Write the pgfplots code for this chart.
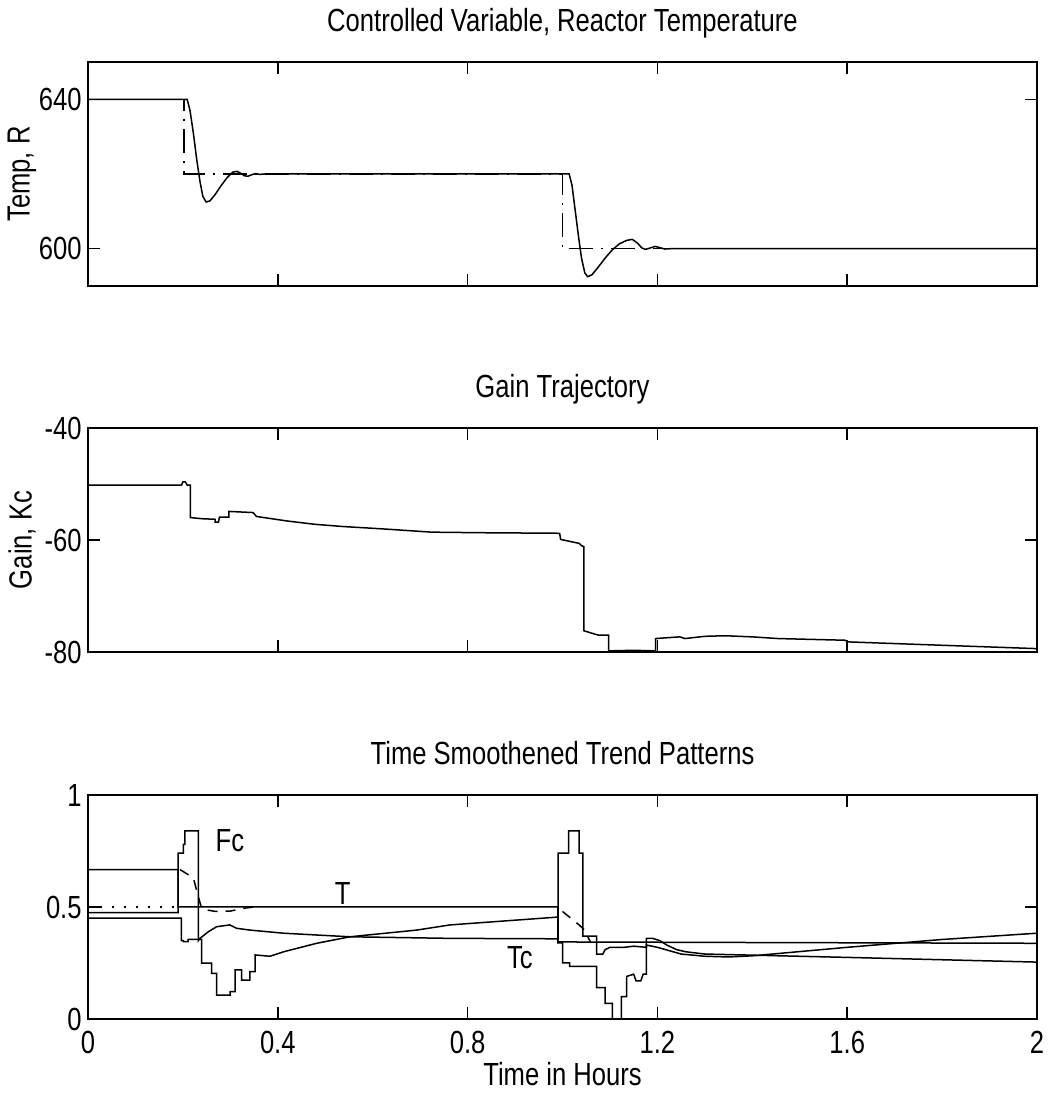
\documentclass[border=0pt]{standalone}
\usepackage{fontspec}
\setmainfont{Liberation Sans}[FakeStretch=0.8]
\usepackage{pgfplots}
\pgfplotsset{compat=1.18}
\pgfplotsset{
  panel/.style={
    scale only axis, width=474.5pt, height=112pt,
    xmin=0, xmax=2,
    xtick={0,0.4,0.8,1.2,1.6,2},
    xticklabels={0,0.4,0.8,1.2,1.6,2},
    tick align=inside, xtick pos=both, ytick pos=both,
    major tick length=6pt,
    axis line style={line width=0.8pt},
    every tick/.style={black, line width=0.8pt},
    tick label style={font=\fontsize{16}{19}\selectfont},
    /pgf/number format/assume math mode=true,
    xticklabel style={anchor=base, yshift=-17.5pt, inner sep=0pt},
    yticklabel style={anchor=east, inner sep=0pt, xshift=-3pt},
    label style={font=\fontsize{16}{19}\selectfont},
    ylabel style={at={(axis description cs:-0.0695,0.5)}, anchor=center},
    every axis title shift=0pt,
    title style={font=\fontsize{16}{19}\selectfont, at={(axis description cs:0.5,1)}, anchor=base, yshift=15pt},
  },
  ln/.style={black, line width=0.75pt, mark=none},
}
\begin{document}
\fontsize{16}{19}\selectfont
\begin{tikzpicture}[x=1pt,y=1pt]
\useasboundingbox (0,0) rectangle (525,548.5);

% ---------------- top panel ----------------
\begin{axis}[panel, at={(44pt,405.5pt)}, anchor=south west,
  ymin=590, ymax=650, ytick={600,640}, xticklabels={},
  ylabel={Temp, R},
  title={Controlled Variable, Reactor Temperature}]
\addplot[ln, dash pattern=on 12pt off 4pt on 1pt off 4pt] coordinates {
(0,640)(0.202,640)(0.202,620)(1.0,620)(1.0,600)(2,600)};
\addplot[ln] coordinates {
(0,640)(0.209,640)(0.215,637)(0.222,631)(0.229,624)(0.236,618)(0.242,614)
(0.249,612.5)(0.257,612.8)(0.268,614.5)(0.28,616.8)(0.293,619)(0.305,620.5)
(0.314,620.7)(0.322,620.2)(0.33,619.5)(0.337,619.4)(0.345,619.8)(0.353,620.1)
(0.362,619.9)(0.375,620)(1.014,620)(1.02,617)(1.027,610)(1.034,603)(1.04,597.5)
(1.047,593.5)(1.053,592.5)(1.062,593)(1.075,595)(1.09,597.5)(1.105,599.7)
(1.12,601.3)(1.135,602.2)(1.147,602.5)(1.158,601.5)(1.167,600.2)(1.175,599.8)
(1.185,600.2)(1.195,600.6)(1.205,600.3)(1.215,599.9)(1.23,600)(2,600)};
\end{axis}

% ---------------- middle panel ----------------
\begin{axis}[panel, at={(44pt,222.5pt)}, anchor=south west,
  ymin=-80, ymax=-40, ytick={-80,-60,-40}, xticklabels={},
  ylabel={Gain, Kc},
  title={Gain Trajectory}]
\addplot[ln] coordinates {
(0,-50.2)(0.197,-50.2)(0.200,-49.6)(0.205,-49.6)(0.209,-50.2)(0.216,-50.2)
(0.216,-56.0)(0.24,-56.2)(0.268,-56.3)(0.268,-56.8)(0.275,-56.8)(0.277,-55.9)
(0.297,-55.9)(0.297,-54.9)(0.348,-55.1)(0.355,-55.8)(0.419,-56.6)(0.478,-57.2)
(0.538,-57.6)(0.598,-57.9)(0.636,-58.1)(0.724,-58.6)(0.826,-58.7)(0.994,-58.8)
(0.996,-59.9)(1.035,-60.6)(1.04,-61.0)(1.045,-61.2)(1.045,-76.2)(1.06,-76.6)
(1.076,-77.0)(1.097,-77.0)(1.097,-79.8)(1.15,-79.7)(1.196,-79.8)(1.196,-77.6)
(1.247,-77.3)(1.258,-77.6)(1.30,-77.2)(1.343,-77.1)(1.40,-77.3)(1.454,-77.6)
(1.595,-77.9)(1.603,-78.2)(1.80,-78.8)(2.0,-79.4)};
\end{axis}

% ---------------- bottom panel ----------------
\begin{axis}[panel, at={(44pt,39pt)}, anchor=south west,
  ymin=0, ymax=1, ytick={0,0.5,1},
  xlabel={Time in Hours},
  xlabel style={at={(axis description cs:0.5,0)}, anchor=base, yshift=-33.5pt},
  title={Time Smoothened Trend Patterns}]
% dotted reference
\addplot[ln, line width=0.6pt, dash pattern=on 1pt off 5pt] coordinates {(0,0.5)(0.19,0.5)};
% T
\addplot[ln] coordinates {(0,0.667)(0.19,0.667)(0.19,0.5)(0.99,0.5)(0.99,0.344)(1.3,0.342)(2,0.338)};
% smoothed T transient
\addplot[ln, dash pattern=on 5pt off 4pt] coordinates {(0.194,0.667)(0.222,0.63)(0.232,0.55)(0.24,0.49)(0.27,0.48)(0.3,0.482)(0.33,0.495)(0.35,0.5)};
\addplot[ln, dash pattern=on 5pt off 4pt] coordinates {(1.0,0.48)(1.035,0.42)(1.045,0.40)(1.06,0.34)};
% Fc
\addplot[ln] coordinates {
(0,0.475)(0.19,0.475)(0.19,0.74)(0.201,0.74)(0.201,0.78)(0.204,0.78)(0.204,0.84)
(0.2325,0.84)(0.2325,0.35)(0.236,0.36)(0.254,0.39)(0.271,0.412)(0.299,0.42)
(0.313,0.405)(0.341,0.397)(0.412,0.383)(0.482,0.375)(0.552,0.367)(0.763,0.36)
(0.991,0.358)(0.991,0.74)(1.013,0.74)(1.013,0.84)(1.035,0.84)(1.035,0.74)
(1.043,0.74)(1.043,0.37)(1.072,0.37)(1.072,0.29)(1.085,0.29)(1.09,0.31)
(1.1,0.32)(1.13,0.32)(1.15,0.325)(1.177,0.32)(1.177,0.36)(1.19,0.36)
(1.205,0.35)(1.22,0.33)(1.24,0.31)(1.26,0.30)(1.3,0.29)(1.4,0.285)(1.6,0.275)(2,0.254)};
% Tc
\addplot[ln] coordinates {
(0,0.45)(0.197,0.45)(0.197,0.35)(0.201,0.35)(0.201,0.345)(0.211,0.345)
(0.211,0.355)(0.2396,0.355)(0.2396,0.249)(0.2607,0.249)(0.2607,0.204)
(0.2712,0.204)(0.2712,0.107)(0.2993,0.107)(0.2993,0.122)(0.31,0.122)(0.31,0.219)
(0.324,0.219)(0.324,0.174)(0.341,0.174)(0.341,0.211)(0.352,0.211)(0.352,0.286)
(0.3836,0.28)(0.412,0.30)(0.482,0.338)(0.552,0.367)(0.693,0.397)(0.763,0.42)
(0.99,0.455)(0.99,0.34)(1.0,0.34)(1.0,0.25)(1.015,0.25)(1.015,0.235)(1.072,0.235)
(1.072,0.14)(1.09,0.14)(1.09,0.07)(1.105,0.07)(1.105,0.0)(1.124,0)(1.124,0.1)
(1.135,0.1)(1.135,0.19)(1.15,0.2)(1.155,0.17)(1.165,0.17)(1.17,0.2)(1.177,0.2)
(1.177,0.33)(1.2,0.32)(1.25,0.29)(1.3,0.28)(1.35,0.277)(1.4,0.282)(1.6,0.32)
(1.8,0.355)(2,0.383)};
\node[font=\fontsize{16}{19}\selectfont] at (axis cs:0.299,0.795) {Fc};
\node[font=\fontsize{16}{19}\selectfont] at (axis cs:0.537,0.5625) {T};
\node[font=\fontsize{16}{19}\selectfont] at (axis cs:0.91,0.272) {Tc};
\end{axis}
\end{tikzpicture}
\end{document}
